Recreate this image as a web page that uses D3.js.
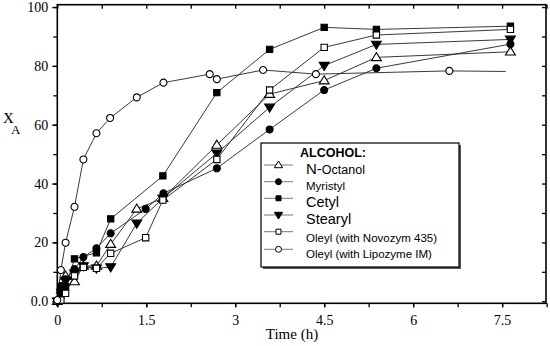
<!DOCTYPE html>
<html><head><meta charset="utf-8">
<script src="https://cdn.jsdelivr.net/npm/d3@7"></script>
<style>body{margin:0;background:#fff}svg{display:block}</style>
</head><body><svg id="c" width="550" height="346"></svg>
<script>
const xTicks = [0, 1.5, 3, 4.5, 6, 7.5];
const xTickLabels = ["0", "1.5", "3", "4.5", "6", "7.5"];
const yTicks = [0, 20, 40, 60, 80, 100];
const yTickLabels = ["0.0", "20", "40", "60", "80", "100"];

const octanolT = [0, 0.07, 0.14, 0.29, 0.44, 0.66, 0.9, 1.34, 1.78, 2.69, 3.58, 4.5, 5.38, 7.64];
const octanolY = [0, 4, 8.6, 6.7, 12, 12, 19.4, 31.4, 35, 53.1, 70.4, 75, 82.9, 84.8];
const myristylT = [0, 0.06, 0.14, 0.29, 0.44, 0.66, 0.9, 1.49, 1.79, 2.69, 3.58, 4.5, 5.38, 7.64];
const myristylY = [0, 5.2, 7.5, 10.9, 15, 18, 23.1, 31.4, 36.7, 45.2, 58.4, 71.8, 79.2, 87.4];
const cetylT = [0, 0.06, 0.14, 0.29, 0.66, 0.9, 1.78, 2.69, 3.58, 4.5, 5.38, 7.64];
const cetylY = [0, 2, 5, 14.4, 16.5, 28, 42.6, 70.9, 85.6, 93.1, 92.4, 93.5];
const stearylT = [0, 0.07, 0.14, 0.29, 0.44, 0.66, 0.9, 1.34, 1.78, 2.69, 3.58, 4.5, 5.38, 7.64];
const stearylY = [0, 3, 7, 9.5, 12, 11.2, 11.6, 26.5, 35, 50.3, 65.9, 80.1, 87.3, 89];
const novozymT = [0, 0.06, 0.14, 0.29, 0.44, 0.66, 0.9, 1.49, 1.78, 2.69, 3.58, 4.5, 5.38, 7.64];
const novozymY = [0, 0.4, 2.7, 8.6, 11.5, 11.2, 16.3, 21.6, 34.4, 48.2, 71.8, 86.3, 90.5, 92.4];
const lipozymeT = [0, 0.06, 0.14, 0.29, 0.44, 0.66, 0.89, 1.34, 1.79, 2.57, 2.69, 3.47, 4.36, 6.61];
const lipozymeY = [0.4, 10.6, 19.9, 32.1, 48.2, 57.1, 62.3, 69.3, 74.3, 77.2, 75.5, 78.6, 77.2, 78.3];
const lipozymeTailT = [6.61, 7.56];
const lipozymeTailY = [78.3, 78.1];

const seriesNames = ["N-Octanol", "Myristyl", "Cetyl", "Stearyl", "Oleyl (with Novozym 435)", "Oleyl (with Lipozyme IM)"];

const series = [
  {name: seriesNames[0], t: octanolT, y: octanolY, sym: "triUp", fill: "#fff"},
  {name: seriesNames[1], t: myristylT, y: myristylY, sym: "circle", fill: "#000"},
  {name: seriesNames[2], t: cetylT, y: cetylY, sym: "square", fill: "#000"},
  {name: seriesNames[3], t: stearylT, y: stearylY, sym: "triDown", fill: "#000"},
  {name: seriesNames[4], t: novozymT, y: novozymY, sym: "square", fill: "#fff"},
  {name: seriesNames[5], t: lipozymeT, y: lipozymeY, sym: "circle", fill: "#fff"}
];

const svg = d3.select("#c");
const L = 57.3, R = 546, T = 4.7, B = 303.3;
const x = d3.scaleLinear().domain([0, 8.24]).range([L, R]);
const y = d3.scaleLinear().domain([-0.7, 100.8]).range([B, T]);

const g = svg.append("g");
g.append("rect").attr("x", L).attr("y", T).attr("width", R - L).attr("height", B - T)
  .attr("fill", "none").attr("stroke", "#000").attr("stroke-width", 1.6);

const xMinor = d3.range(0, 8.3, 0.75);
const yMinor = d3.range(0, 101, 10);

function styleAxis(sel){
  sel.select(".domain").remove();
  sel.selectAll("line").attr("stroke", "#000").attr("stroke-width", 1.3);
  sel.selectAll("text").attr("font-family", "Liberation Serif, Times New Roman, serif")
    .attr("font-size", 14).attr("fill", "#000");
}
g.append("g").attr("transform", `translate(0,${B})`)
  .call(d3.axisBottom(x).tickValues(xMinor).tickSize(4).tickFormat(""))
  .call(styleAxis);
g.append("g").attr("transform", `translate(0,${B})`)
  .call(d3.axisBottom(x).tickValues(xTicks).tickSize(4).tickPadding(8).tickFormat((d,i)=>xTickLabels[i]))
  .call(styleAxis);
g.append("g").attr("transform", `translate(0,${T})`)
  .call(d3.axisTop(x).tickValues(xMinor).tickSize(-4).tickFormat(""))
  .call(styleAxis);
g.append("g").attr("transform", `translate(${L},0)`)
  .call(d3.axisLeft(y).tickValues(yMinor).tickSize(4).tickFormat(""))
  .call(styleAxis);
g.append("g").attr("transform", `translate(${L},0)`)
  .call(d3.axisLeft(y).tickValues(yTicks).tickSize(5).tickPadding(4).tickFormat((d,i)=>yTickLabels[i]))
  .call(styleAxis);
g.append("g").attr("transform", `translate(${R},0)`)
  .call(d3.axisRight(y).tickValues(yMinor).tickSize(-4).tickFormat(""))
  .call(styleAxis);

svg.append("text").attr("x", 292).attr("y", 339).attr("text-anchor", "middle")
  .attr("font-family", "Liberation Serif, Times New Roman, serif").attr("font-size", 15).text("Time (h)");
svg.append("text").attr("x", 3).attr("y", 123)
  .attr("font-family", "Liberation Serif, Times New Roman, serif").attr("font-size", 15).text("X");
svg.append("text").attr("x", 11).attr("y", 134)
  .attr("font-family", "Liberation Serif, Times New Roman, serif").attr("font-size", 13).text("A");

function symPath(sym, s){
  if (sym === "circle") return d3.symbol(d3.symbolCircle, s*s*0.785)();
  if (sym === "square") return d3.symbol(d3.symbolSquare, s*s)();
  const h = s*0.9, w = s*0.55;
  if (sym === "triUp") return `M0,${-h*0.6}L${w},${h*0.4}L${-w},${h*0.4}Z`;
  return `M0,${h*0.6}L${w},${-h*0.4}L${-w},${-h*0.4}Z`;
}

const line = d3.line().x(d => x(d[0])).y(d => y(d[1]));
const plot = svg.append("g");
series.forEach(s => {
  const pts = s.t.map((t,i) => [t, s.y[i]]);
  plot.append("path").attr("d", line(pts)).attr("fill", "none").attr("stroke", "#222").attr("stroke-width", 0.9);
});
plot.append("path").attr("d", line(lipozymeTailT.map((t,i)=>[t, lipozymeTailY[i]])))
  .attr("fill","none").attr("stroke","#222").attr("stroke-width",0.9);
series.forEach(s => {
  const size = s.sym === "circle" ? 7 : (s.sym === "square" ? 6.3 : 9);
  plot.selectAll(null).data(s.t.map((t,i)=>[t, s.y[i]])).enter().append("path")
    .attr("transform", d => `translate(${x(d[0])},${y(d[1])})`)
    .attr("d", symPath(s.sym, size))
    .attr("fill", s.fill).attr("stroke", "#000").attr("stroke-width", 1.1);
});

// legend
const lg = svg.append("g");
const bx = 261, by = 143, bw = 198, bh = 124;
lg.append("rect").attr("x", bx+2).attr("y", by+2).attr("width", bw).attr("height", bh).attr("fill", "#555");
lg.append("rect").attr("x", bx).attr("y", by).attr("width", bw).attr("height", bh).attr("fill", "#fff").attr("stroke", "#000").attr("stroke-width", 1.2);
lg.append("text").attr("x", 300).attr("y", 156.5).attr("font-family", "Liberation Sans, Arial, sans-serif")
  .attr("font-weight", "bold").attr("font-size", 12.5).text("ALCOHOL:");
const rowY = [165, 181.7, 198.3, 215, 231.7, 249.3];
const textY = [173.5, 190, 206.7, 224, 241.7, 258];
const labelSizes = [[15, 12.5], [11.5], [14.5], [14.5], [11.5], [11.5]];
series.forEach((s, i) => {
  const yy = rowY[i];
  lg.append("line").attr("x1", 264).attr("x2", 293).attr("y1", yy).attr("y2", yy).attr("stroke", "#777").attr("stroke-width", 1);
  const size = s.sym === "circle" ? 6 : (s.sym === "square" ? 5 : 7.5);
  lg.append("path").attr("transform", `translate(278.5,${yy})`).attr("d", symPath(s.sym, size))
    .attr("fill", s.fill).attr("stroke", "#000").attr("stroke-width", 1);
  const t = lg.append("text").attr("x", 306).attr("y", textY[i]).attr("font-family", "Liberation Sans, Arial, sans-serif");
  if (i === 0) {
    t.append("tspan").attr("font-size", labelSizes[0][0]).text("N-");
    t.append("tspan").attr("font-size", labelSizes[0][1]).text("Octanol");
  } else {
    t.attr("font-size", labelSizes[i][0]).text(s.name);
  }
});
</script></body></html>
